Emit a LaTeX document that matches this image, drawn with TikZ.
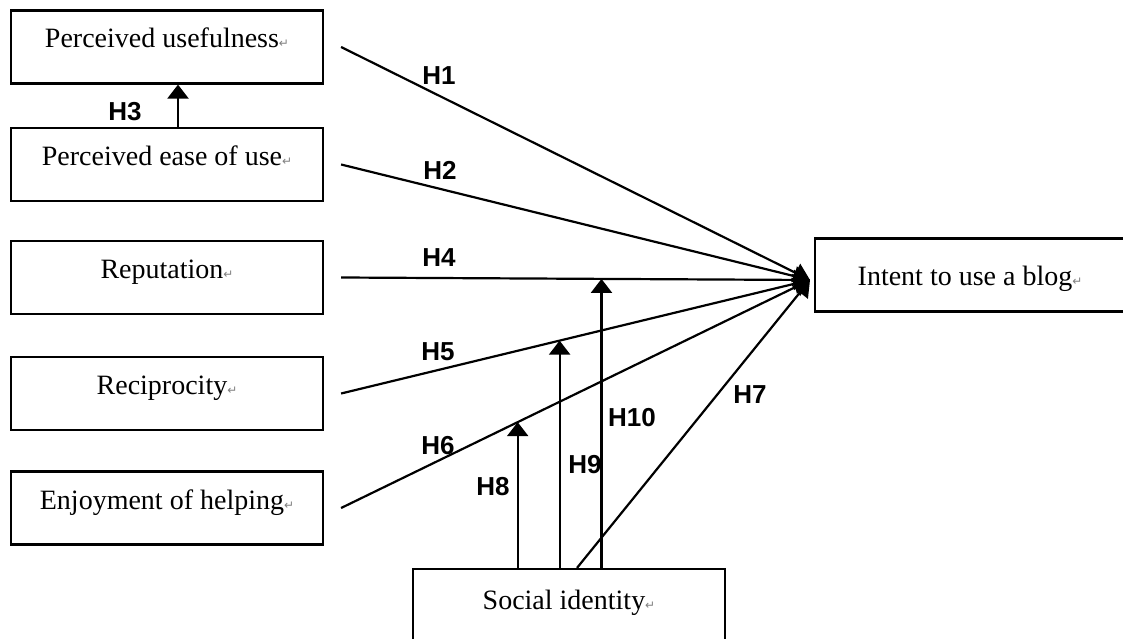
\documentclass[tikz,border=0pt]{standalone}
\usepackage{fontspec}
\setmainfont{Liberation Serif}
\newfontfamily\lblfont{Liberation Sans}
\newfontfamily\symfont{DejaVu Sans}
\usetikzlibrary{arrows.meta,calc}
\newcommand{\retmark}{{\symfont\fontsize{12}{12}\selectfont\textcolor{gray}{↵}}}
\begin{document}
\begin{tikzpicture}[x=1pt,y=-1pt,
  box/.style={draw, line width=2.2pt, minimum width=312pt, minimum height=73pt, inner sep=0pt,
    text height=16pt, text depth=14pt, font=\fontsize{28}{28}\selectfont},
  lbl/.style={font=\lblfont\bfseries\fontsize{26}{26}\selectfont, inner sep=0pt},
  conn/.style={line width=2.2pt, -{Triangle[width=20pt,length=16pt]}},
  vconn/.style={line width=2.2pt, -{Triangle[width=21pt,length=14pt]}}]
\useasboundingbox (0,0) rectangle (1123,639);
\fill[white] (0,0) rectangle (1123,639);
% boxes
\node[box] (pu)  at (167,47)    {Perceived usefulness\retmark};
\node[box] (pe)  at (167,164.5) {Perceived ease of use\retmark};
\node[box] (rep) at (167,277.5) {Reputation\retmark};
\node[box] (rec) at (167,393.5) {Reciprocity\retmark};
\node[box] (enj) at (167,508)   {Enjoyment of helping\retmark};
\node[box, minimum width=310pt, text height=25pt, text depth=5pt] (int) at (970,275) {Intent to use a blog\retmark};
\node[box, minimum height=74pt, text height=18pt, text depth=12pt] (soc) at (569,606) {Social identity\retmark};
% hub
\coordinate (hub) at (810,280);
% main connectors
\draw[conn] ([xshift=17pt]pu.east)  -- (hub);
\draw[conn] ([xshift=17pt]pe.east)  -- (hub);
\draw[conn] ([xshift=17pt]rep.east) -- (hub);
\draw[conn] ([xshift=17pt]rec.east) -- (hub);
\draw[conn] ([xshift=17pt]enj.east) -- (hub);
\draw[conn] ([xshift=8pt]soc.north) -- (hub);
% H3
\coordinate (h3x) at (178,0);
\draw[vconn] (pe.north -| h3x) -- (pu.south -| h3x);
% moderators
\coordinate (t8)  at ($([xshift=17pt]enj.east)!0.3766!(hub)$);
\coordinate (t9)  at ($([xshift=17pt]rec.east)!0.466!(hub)$);
\coordinate (t10) at ($([xshift=17pt]rep.east)!0.5553!(hub)$);
\draw[vconn] (soc.north -| t8)  -- (t8);
\draw[vconn] (soc.north -| t9)  -- (t9);
\draw[vconn] (soc.north -| t10) -- (t10);
% labels
\node[lbl] (l1)  at (439,76)  {H1};
\node[lbl] (l2)  at (440,170) {H2};
\node[lbl] (l3)  at (125,112) {H3};
\node[lbl] (l4)  at (439,258) {H4};
\node[lbl] (l5)  at (438,352) {H5};
\node[lbl] (l6)  at (438,446) {H6};
\node[lbl] (l7)  at (750,395) {H7};
\node[lbl] (l8)  at (493,487) {H8};
\node[lbl] (l9)  at (585,465) {H9};
\node[lbl] (l10) at (632,418) {H10};
\end{tikzpicture}
\end{document}
